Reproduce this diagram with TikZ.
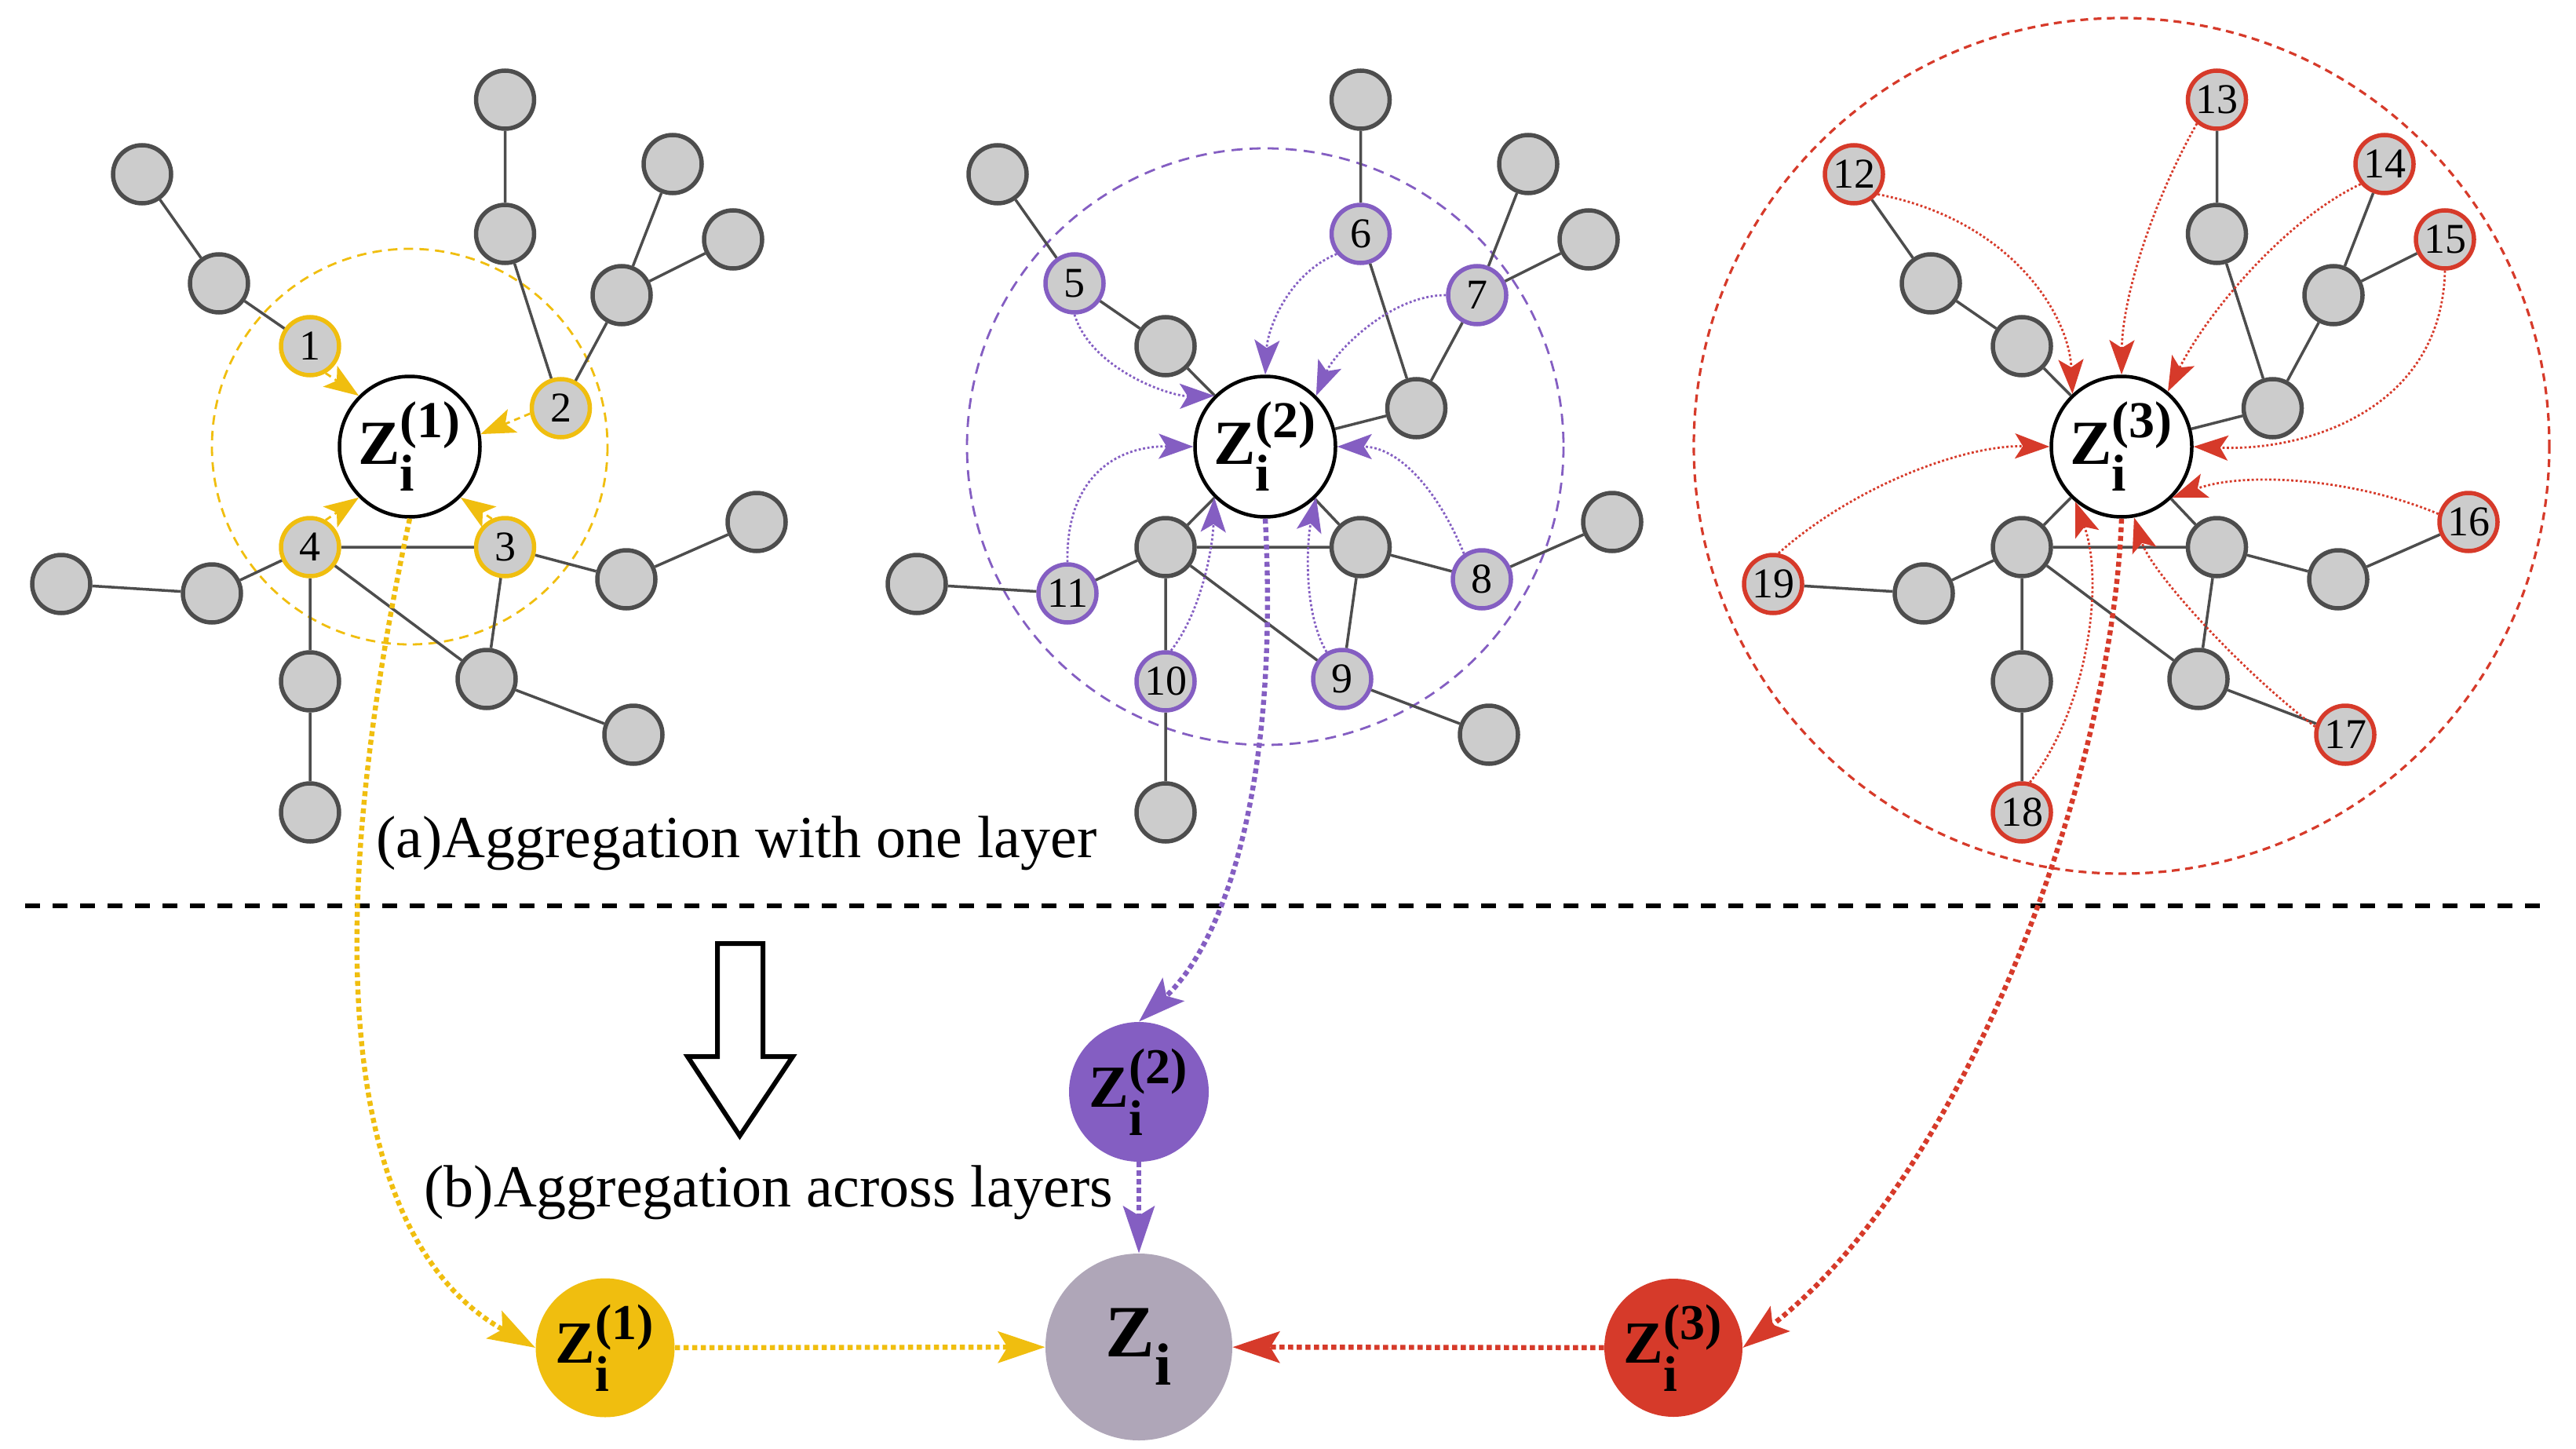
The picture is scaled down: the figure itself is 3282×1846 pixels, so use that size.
\documentclass[tikz,border=0pt]{standalone}
\usepackage{fontspec}
\usepackage{amsmath}
\setmainfont{Liberation Serif}
\DeclareMathSizes{40}{40}{33}{25}
\DeclareMathSizes{38}{38}{32}{24}
\DeclareMathSizes{47}{47}{38}{28}
\usetikzlibrary{arrows.meta}
\definecolor{yel}{RGB}{240,190,15}
\definecolor{pur}{RGB}{132,94,194}
\definecolor{redc}{RGB}{214,58,42}
\definecolor{zig}{RGB}{175,166,184}
\definecolor{ngray}{RGB}{204,204,204}
\definecolor{egray}{RGB}{77,77,77}
\tikzset{
 gnode/.style={circle, draw=egray, fill=ngray, line width=2.75pt, minimum size=37pt, inner sep=0pt},
 lblfont/.style={font=\fontsize{27}{30}\selectfont, inner sep=0pt},
 yl/.style={draw=yel, label={[lblfont]center:#1}},
 pl/.style={draw=pur, label={[lblfont]center:#1}},
 rl/.style={draw=redc, label={[lblfont]center:#1}},
 yA3/.style={yl=1}, yK/.style={yl=2}, yR/.style={yl=3}, yL/.style={yl=4},
 pA2/.style={pl=5}, pB2/.style={pl=6}, pC3/.style={pl=7}, pE1/.style={pl=8},
 pG1/.style={pl=9}, pF1/.style={pl=10}, pD2/.style={pl=11},
 rA1/.style={rl=12}, rB1/.style={rl=13}, rC1/.style={rl=14}, rC2/.style={rl=15},
 rE2/.style={rl=16}, rG2/.style={rl=17}, rF2/.style={rl=18}, rD1/.style={rl=19},
 edge/.style={draw=egray, line width=1.75pt},
 znode/.style={circle, draw=black, fill=white, line width=2.25pt, minimum size=89.5pt, inner sep=0pt, font=\fontsize{40}{48}\selectfont},
 bnode/.style={circle, inner sep=0pt, minimum size=88.5pt, font=\fontsize{38}{46}\selectfont},
 smalltip/.style={-{Stealth[length=22pt,width=16pt,inset=5pt]}},
 yarr/.style={draw=yel, line width=1.4pt, dash pattern=on 4pt off 3pt, smalltip},
 parr/.style={draw=pur, line width=1.4pt, dash pattern=on 1.4pt off 1.4pt, smalltip},
 rarr/.style={draw=redc, line width=1.4pt, dash pattern=on 1.4pt off 1.4pt, smalltip},
 bigarr/.style={line width=3.2pt, dash pattern=on 3.2pt off 2.3pt, -{Stealth[length=30pt,width=20pt,inset=6pt]}},
 title/.style={anchor=base west, inner sep=0pt, font=\fontsize{38}{44}\selectfont},
}
\newcommand\gnodes[1]{%
 \node[gnode,#1A1/.try] (#1A1) at (181,222) {};
 \node[gnode,#1A2/.try] (#1A2) at (279,361) {};
 \node[gnode,#1A3/.try] (#1A3) at (395,441) {};
 \node[gnode,#1B1/.try] (#1B1) at (643.5,127) {};
 \node[gnode,#1B2/.try] (#1B2) at (643.5,298) {};
 \node[gnode,#1C1/.try] (#1C1) at (857,209) {};
 \node[gnode,#1C2/.try] (#1C2) at (934,305) {};
 \node[gnode,#1C3/.try] (#1C3) at (792,376) {};
 \node[gnode,#1K/.try] (#1K) at (714.5,520) {};
 \node[gnode,#1L/.try] (#1L) at (395,697) {};
 \node[gnode,#1R/.try] (#1R) at (643.5,697) {};
 \node[gnode,#1D1/.try] (#1D1) at (78,744) {};
 \node[gnode,#1D2/.try] (#1D2) at (270,756) {};
 \node[gnode,#1E1/.try] (#1E1) at (798,738) {};
 \node[gnode,#1E2/.try] (#1E2) at (964,665) {};
 \node[gnode,#1F1/.try] (#1F1) at (395,868) {};
 \node[gnode,#1F2/.try] (#1F2) at (395,1035) {};
 \node[gnode,#1G1/.try] (#1G1) at (620,865) {};
 \node[gnode,#1G2/.try] (#1G2) at (807,936) {};
 \draw[edge] (#1A1)--(#1A2) (#1A2)--(#1A3) (#1B1)--(#1B2) (#1B2)--(#1K)
  (#1C1)--(#1C3) (#1C2)--(#1C3) (#1C3)--(#1K) (#1L)--(#1R) (#1L)--(#1D2)
  (#1D1)--(#1D2) (#1L)--(#1F1) (#1F1)--(#1F2) (#1L)--(#1G1) (#1G1)--(#1R)
  (#1R)--(#1E1) (#1E1)--(#1E2) (#1G1)--(#1G2);
}
\begin{document}
\begin{tikzpicture}[x=0.5pt,y=-0.5pt]
\useasboundingbox (0,0) rectangle (3282,1846);
% dashed neighbourhood circles
\draw[draw=yel, line width=1.4pt, dash pattern=on 6pt off 4pt] (522,569) circle[radius=252];
\draw[draw=pur, line width=1.4pt, dash pattern=on 7pt off 4.5pt] (1612,569) circle[radius=380];
\draw[draw=redc, line width=1.6pt, dash pattern=on 5pt off 3.5pt] (2703,568) circle[radius=545];

% graph 1
\begin{scope}
 \gnodes{y}
 \node[znode] (yZ) at (522,569) {$\textbf{Z}_{\textbf{i}}^{\textbf{(1)}}$};
 \draw[yarr] (yA3.300) -- (yZ.135);
 \draw[yarr] (yK.190) -- (yZ.10);
 \draw[yarr] (yL.60) -- (yZ.225);
 \draw[yarr] (yR.115) -- (yZ.315);
\end{scope}

% graph 2
\begin{scope}[shift={(1090,0)}]
 \gnodes{p}
 \node[znode] (pZ) at (522,569) {$\textbf{Z}_{\textbf{i}}^{\textbf{(2)}}$};
 \draw[edge] (pA3)--(pZ) (pK)--(pZ) (pL)--(pZ) (pR)--(pZ);
 \draw[parr] (pA2.south) .. controls (300,470) and (400,505) .. (pZ.135);
 \draw[parr] (pB2.220) .. controls (550,350) and (525,420) .. (pZ.90);
 \draw[parr] (pC3.180) .. controls (680,376) and (610,450) .. (pZ.45);
 \draw[parr] (pD2.90) .. controls (268,610) and (330,568) .. (pZ.180);
 \draw[parr] (pE1.125) .. controls (740,620) and (690,569) .. (pZ.0);
 \draw[parr] (pF1.80) .. controls (440,780) and (455,700) .. (pZ.225);
 \draw[parr] (pG1.120) .. controls (570,780) and (575,690) .. (pZ.315);
\end{scope}

% graph 3
\begin{scope}[shift={(2181,0)}]
 \gnodes{r}
 \node[znode] (rZ) at (522,569) {$\textbf{Z}_{\textbf{i}}^{\textbf{(3)}}$};
 \draw[edge] (rA3)--(rZ) (rK)--(rZ) (rL)--(rZ) (rR)--(rZ);
 \draw[rarr] (rA1.320) .. controls (380,280) and (455,400) .. (rZ.133);
 \draw[rarr] (rB1.230) .. controls (560,260) and (523,380) .. (rZ.90);
 \draw[rarr] (rC1.220) .. controls (730,280) and (630,400) .. (rZ.50);
 \draw[rarr] (rC2.270) .. controls (930,520) and (760,575) .. (rZ.0);
 \draw[rarr] (rE2.165) .. controls (820,610) and (680,600) .. (rZ.315);
 \draw[rarr] (rG2.165) .. controls (680,860) and (560,730) .. (rZ.280);
 \draw[rarr] (rF2.75) .. controls (480,900) and (500,740) .. (rZ.230);
 \draw[rarr] (rD1.80) .. controls (180,620) and (320,567) .. (rZ.180);
\end{scope}

% titles and separator
\node[title] (ta) at (479,1092) {(a)Aggregation with one layer};
\node[title] (tb) at (540,1537) {(b)Aggregation across layers};
\draw[line width=3pt, dash pattern=on 9.5pt off 8pt] (32,1154) -- (3245,1154);
\draw[line width=3pt, line join=miter] (914,1202) -- (972,1202) -- (972,1346) -- (1010,1346)
  -- (942.5,1447) -- (876,1346) -- (914,1346) -- cycle;

% bottom nodes
\node[bnode, fill=yel] (b1) at (771,1717) {$\textbf{Z}_{\textbf{i}}^{\textbf{(1)}}$};
\node[bnode, fill=pur, minimum size=89pt] (b2) at (1451,1391) {$\textbf{Z}_{\textbf{i}}^{\textbf{(2)}}$};
\node[bnode, fill=redc, minimum size=88pt] (b3) at (2132,1717) {$\textbf{Z}_{\textbf{i}}^{\textbf{(3)}}$};
\node[bnode, fill=zig, minimum size=119pt, font=\fontsize{47}{56}\selectfont] (bz) at (1451,1716) {$\textbf{Z}_{\textbf{i}}$};

\draw[bigarr, draw=yel] (yZ.south) .. controls (395,1250) and (455,1590) .. (b1.west);
\draw[bigarr, draw=pur] (pZ.south) .. controls (1630,1000) and (1560,1200) .. (b2.north);
\draw[bigarr, draw=redc] (rZ.south) .. controls (2690,1000) and (2500,1500) .. (b3.east);
\draw[bigarr, draw=yel] (b1) -- (bz);
\draw[bigarr, draw=pur] (b2) -- (bz);
\draw[bigarr, draw=redc] (b3) -- (bz);
\end{tikzpicture}
\end{document}
